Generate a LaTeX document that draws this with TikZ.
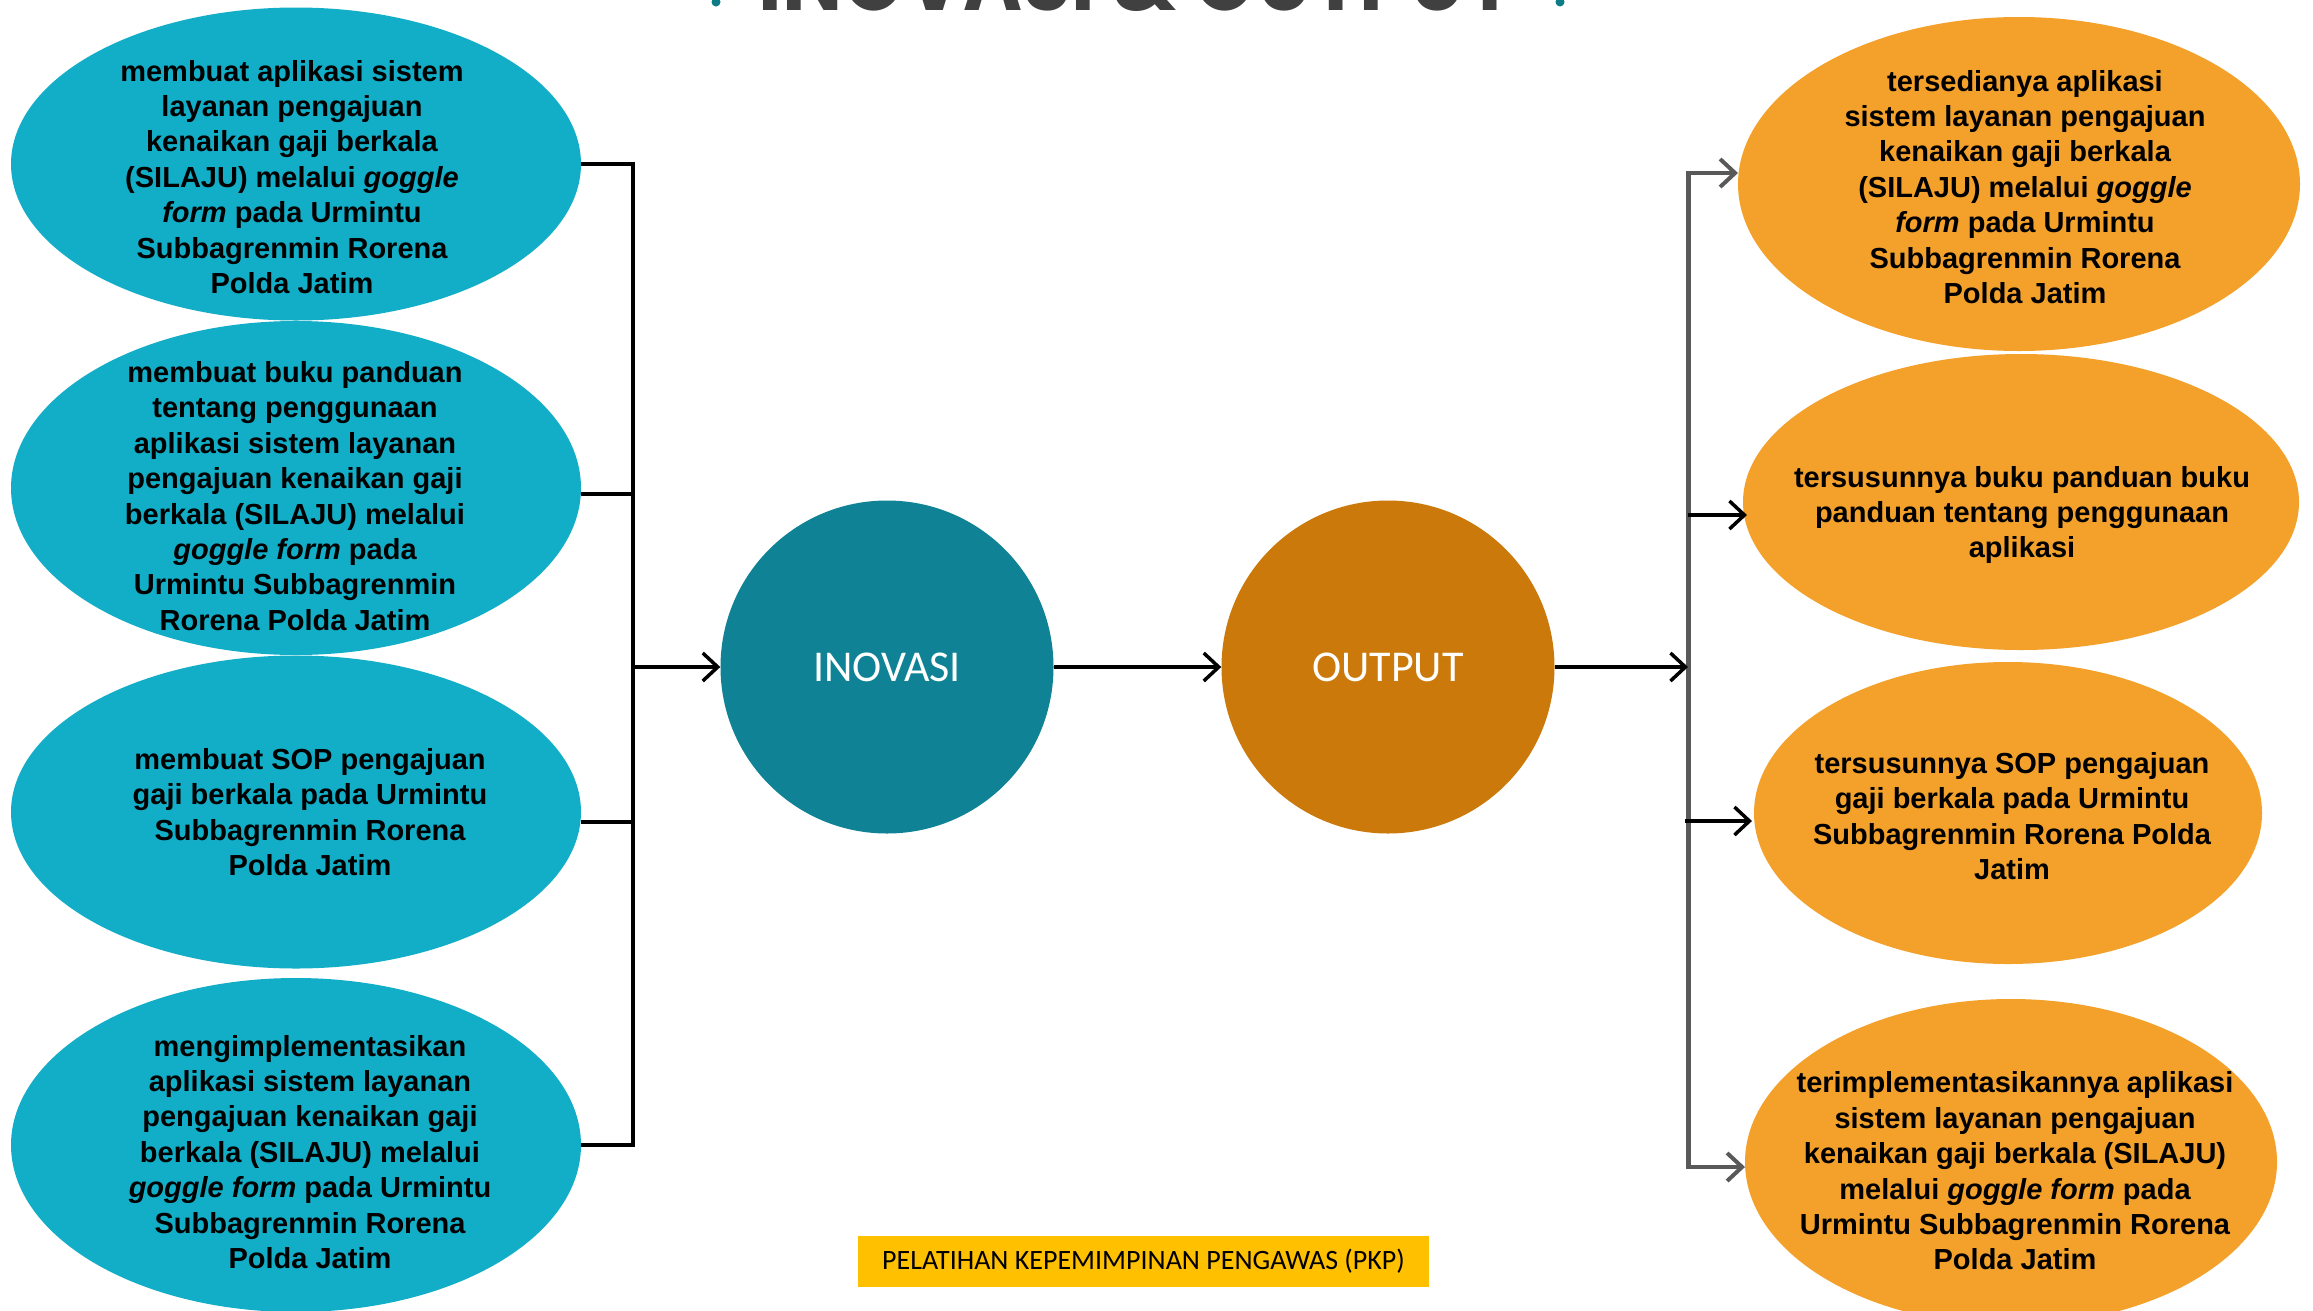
\documentclass[tikz,border=0pt]{standalone}
\usepackage{fontspec}
\setmainfont{Liberation Sans}
\newfontfamily\calib{Carlito}
\newfontfamily\titlefont{Poppins}
\usetikzlibrary{arrows.meta,shapes.geometric}
\definecolor{lcol}{HTML}{12AEC7}
\definecolor{inocol}{HTML}{0F8395}
\definecolor{outcol}{HTML}{CB790A}
\definecolor{rcol}{HTML}{F4A12B}
\definecolor{footcol}{HTML}{FFC000}
\definecolor{buscol}{HTML}{595959}
\definecolor{titcol}{HTML}{404040}
\definecolor{dotcol}{HTML}{0E7C86}
\tikzset{
  lell/.style={ellipse, fill=lcol, inner sep=0pt, minimum width=570pt},
  rell/.style={ellipse, fill=rcol, inner sep=0pt},
  bigc/.style={circle, inner sep=0pt, minimum size=333pt, text=white, font=\calib\fontsize{44}{50}\selectfont},
  btxt/.style={align=center, inner sep=0pt, text=black, font=\bfseries\fontsize{29}{35.4}\selectfont},
  conn/.style={line width=3.5pt, draw=black},
  arr/.style={conn, -{Straight Barb[length=15pt,width=28pt]}},
  gbus/.style={line width=5pt, draw=buscol},
  garr/.style={line width=4pt, draw=buscol, -{Straight Barb[length=15pt,width=28pt]}},
}
\begin{document}
\begin{tikzpicture}[x=1pt,y=-1pt]
\useasboundingbox (0,0) rectangle (2313,1310);
\clip (0,0) rectangle (2313,1310);
\fill[white] (0,0) rectangle (2313,1310);

% title (cut off at the top)
\node[anchor=base, text=titcol, font=\titlefont\bfseries\fontsize{92}{100}\selectfont, xscale=0.87] (title) at (1136,10) {INOVASI \& OUTPUT};
\fill[dotcol] (716,2) circle (4.5) coordinate (dotl);
\fill[dotcol] (1560,2) circle (4.5) coordinate (dotr);

% left ellipses
\node[lell, minimum height=313pt] (L1) at (296,164) {};
\node[lell, minimum height=334pt] (L2) at (296,488) {};
\node[lell, minimum height=313pt] (L3) at (296,812) {};
\node[lell, minimum height=334pt] (L4) at (296,1145) {};
\node[btxt] (L1t) at (292,177) {membuat aplikasi sistem\\layanan pengajuan\\kenaikan gaji berkala\\(SILAJU) melalui \textit{goggle}\\\textit{form} pada Urmintu\\Subbagrenmin Rorena\\Polda Jatim};
\node[btxt] (L2t) at (295,496) {membuat buku panduan\\tentang penggunaan\\aplikasi sistem layanan\\pengajuan kenaikan gaji\\berkala (SILAJU) melalui\\\textit{goggle form} pada\\Urmintu Subbagrenmin\\Rorena Polda Jatim};
\node[btxt] (L3t) at (310,812) {membuat SOP pengajuan\\gaji berkala pada Urmintu\\Subbagrenmin Rorena\\Polda Jatim};
\node[btxt] (L4t) at (310,1152) {mengimplementasikan\\aplikasi sistem layanan\\pengajuan kenaikan gaji\\berkala (SILAJU) melalui\\\textit{goggle form} pada Urmintu\\Subbagrenmin Rorena\\Polda Jatim};

% right ellipses
\node[rell, minimum width=562pt, minimum height=334pt] (R1) at (2019,184) {};
\node[rell, minimum width=556pt, minimum height=296pt] (R2) at (2021,502) {};
\node[rell, minimum width=508pt, minimum height=302pt] (R3) at (2008,813) {};
\node[rell, minimum width=532pt, minimum height=326pt] (R4) at (2011,1162) {};
\node[btxt] (R1t) at (2025,187) {tersedianya aplikasi\\sistem layanan pengajuan\\kenaikan gaji berkala\\(SILAJU) melalui \textit{goggle}\\\textit{form} pada Urmintu\\Subbagrenmin Rorena\\Polda Jatim};
\node[btxt] (R2t) at (2022,515) {tersusunnya buku panduan buku\\panduan tentang penggunaan\\aplikasi};
\node[btxt] (R3t) at (2012,816) {tersusunnya SOP pengajuan\\gaji berkala pada Urmintu\\Subbagrenmin Rorena Polda\\Jatim};
\node[btxt] (R4t) at (2015,1171) {terimplementasikannya aplikasi\\sistem layanan pengajuan\\kenaikan gaji berkala (SILAJU)\\melalui \textit{goggle form} pada\\Urmintu Subbagrenmin Rorena\\Polda Jatim};

% circles
\node[bigc, fill=inocol] (INO) at (887,667) {INOVASI};
\node[bigc, fill=outcol] (OUT) at (1388,667) {OUTPUT};

% left bus
\coordinate (lb1) at (633,164);
\coordinate (lb2) at (633,494);
\coordinate (lb3) at (633,822);
\coordinate (lb4) at (633,1145);
\coordinate (lbm) at (633,667);
\draw[conn] (L1.east) -- (lb1) -- (lb4) -- (L4.east);
\draw[conn] (L2.east |- lb2) -- (lb2);
\draw[conn] (L3.east |- lb3) -- (lb3);
\draw[arr] (lbm) -- (INO.west);
\draw[arr] (INO.east) -- (OUT.west);

% right bus
\coordinate (rb1) at (1688,173);
\coordinate (rb2) at (1688,515);
\coordinate (rb3) at (1685,821);
\coordinate (rb4) at (1688,1167);
\coordinate (rbm) at (1688,667);
\draw[gbus] (rb1) -- (rb4);
\draw[arr] (OUT.east) -- (rbm);
\draw[garr] (1686,173) -- (1738,173) coordinate (R1in);
\draw[arr] (rb2) -- (1747,515) coordinate (R2in);
\draw[arr] (rb3) -- (1752,821) coordinate (R3in);
\draw[garr] (1686,1167) -- (1745,1167) coordinate (R4in);

% footer
\node[fill=footcol, minimum width=571pt, minimum height=51pt, inner sep=0pt, font=\calib\fontsize{28}{32}\selectfont] (foot) at (1143.5,1261.5) {PELATIHAN KEPEMIMPINAN PENGAWAS (PKP)};
\end{tikzpicture}
\end{document}
